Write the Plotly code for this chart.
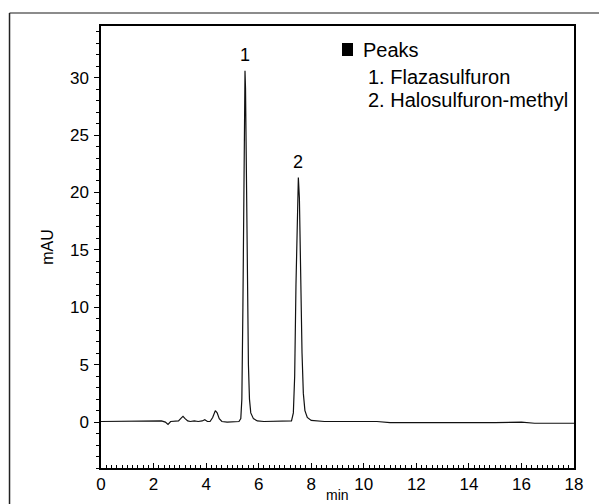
import plotly.graph_objects as go

# Chromatogram trace (time in min, absorbance in mAU)
time_min = [0.0, 0.5, 1.0, 1.5, 2.0, 2.3, 2.45, 2.55, 2.65, 2.8, 2.95, 3.05, 3.12, 3.2, 3.3,
            3.4, 3.55, 3.7, 3.85, 3.95, 4.05, 4.15, 4.25, 4.35, 4.42, 4.5, 4.6, 4.8, 5.0,
            5.25, 5.32, 5.36, 5.40, 5.43, 5.46, 5.48, 5.50, 5.53, 5.57, 5.61, 5.65, 5.70,
            5.80, 5.95, 6.2, 6.6, 7.0, 7.25, 7.32, 7.37, 7.42, 7.47, 7.51, 7.55, 7.60,
            7.65, 7.70, 7.76, 7.85, 8.0, 8.5, 9.0, 9.5, 10.0, 10.5, 11.0, 12.0, 13.0,
            14.0, 15.0, 16.0, 16.5, 17.0, 18.0]
signal_mau = [0.05, 0.05, 0.05, 0.08, 0.1, 0.1, 0.0, -0.2, 0.05, 0.1, 0.1, 0.35, 0.5, 0.3, 0.1,
              0.05, 0.1, 0.05, 0.1, 0.2, 0.05, 0.05, 0.4, 1.0, 0.8, 0.3, 0.05, 0.0, 0.0,
              0.05, 0.3, 2.0, 10.0, 20.0, 28.0, 30.6, 29.0, 22.0, 12.0, 5.0, 2.0, 0.8,
              0.3, 0.1, 0.05, 0.05, 0.05, 0.1, 0.8, 4.0, 12.0, 19.0, 21.3, 19.5, 12.5,
              6.0, 2.5, 1.0, 0.4, 0.15, 0.05, 0.05, 0.0, 0.0, 0.05, -0.05, -0.05, -0.1,
              -0.1, -0.05, 0.0, -0.1, -0.1, -0.1]

peak_labels = ["1", "2"]
peak_times = [5.48, 7.51]
peak_heights = [30.6, 21.3]

legend_title = "Peaks"
legend_items = ["1. Flazasulfuron", "2. Halosulfuron-methyl"]

x_ticks = [0, 2, 4, 6, 8, 10, 12, 14, 16, 18]
y_ticks = [0, 5, 10, 15, 20, 25, 30]

FONT = "Arial, Liberation Sans, sans-serif"

fig = go.Figure()
fig.add_trace(go.Scatter(x=time_min, y=signal_mau, mode="lines",
                         line=dict(color="#111111", width=1.2), showlegend=False,
                         hoverinfo="x+y"))

for lab, t, h in zip(peak_labels, peak_times, peak_heights):
    fig.add_annotation(x=t, y=h, text=lab, showarrow=False, xanchor="center",
                       yanchor="bottom", yshift=4, font=dict(size=18, color="black", family=FONT))

# legend box text
fig.add_annotation(xref="paper", yref="paper", x=0.549, y=0.9457, text=legend_title,
                   showarrow=False, xanchor="left", yanchor="middle",
                   font=dict(size=20, color="black", family=FONT))
for i, item in enumerate(legend_items):
    fig.add_annotation(xref="paper", yref="paper", x=0.561, y=0.8846 - i * 0.052, text=item,
                       showarrow=False, xanchor="left", yanchor="middle",
                       font=dict(size=20, color="black", family=FONT))
fig.add_shape(type="rect", xref="paper", yref="paper", x0=0.5095, x1=0.5328, y0=0.9321, y1=0.9615,
              fillcolor="black", line=dict(width=0))

# x-axis title
fig.add_annotation(xref="paper", yref="paper", x=0.5, y=-0.061, text="min", showarrow=False,
                   xanchor="center", yanchor="middle",
                   font=dict(size=14, color="black", family=FONT))

# outer frame
fig.add_shape(type="line", xref="paper", yref="paper", x0=-0.1934, x1=1.2, y0=1.0294, y1=1.0294,
              line=dict(color="#666666", width=1.5))
fig.add_shape(type="line", xref="paper", yref="paper", x0=-0.1934, x1=-0.1934, y0=-0.2, y1=1.0294,
              line=dict(color="#222222", width=1.5))

fig.update_xaxes(range=[0, 18], tickvals=x_ticks, ticks="inside", ticklen=5, tickwidth=1,
                 tickcolor="black", showline=True, linecolor="black", linewidth=1.5, mirror=True,
                 showgrid=False, zeroline=False, automargin=False,
                 minor=dict(dtick=0.2, ticks="inside", ticklen=3, tickcolor="black", showgrid=False),
                 tickfont=dict(size=17, color="black", family=FONT))
fig.update_yaxes(range=[-4, 34.5], tickvals=y_ticks, ticks="outside", ticklen=5, tickwidth=1,
                 tickcolor="black", showline=True, linecolor="black", linewidth=1.5, mirror=True,
                 showgrid=False, zeroline=False, ticklabelstandoff=2, automargin=False,
                 minor=dict(dtick=1, ticks="outside", ticklen=3, tickcolor="black", showgrid=False),
                 tickfont=dict(size=17, color="black", family=FONT),
                 title=dict(text="mAU", font=dict(size=16, color="black", family=FONT), standoff=12))

fig.update_layout(width=599, height=496, margin=dict(l=93, r=33, t=18, b=36, autoexpand=False),
                  paper_bgcolor="white", plot_bgcolor="white", showlegend=False)

fig.write_html("out.html")
